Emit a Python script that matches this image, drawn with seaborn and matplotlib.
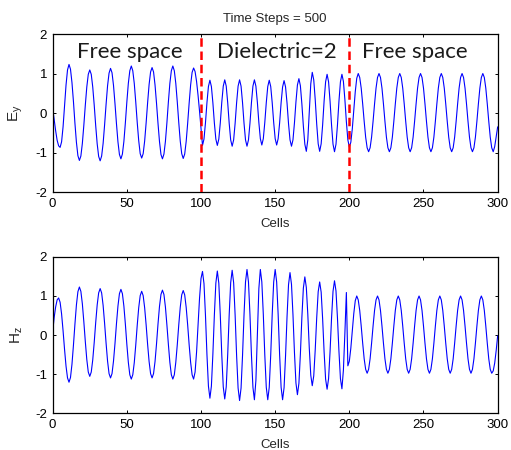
import matplotlib
matplotlib.use("Agg")
import matplotlib.pyplot as plt
import seaborn as sns
import pandas as pd

# Field snapshot after 500 time steps, one value per grid cell (0..300)
cells = list(range(301))

ey = [
    0.12, -0.16, -0.45, -0.69, -0.83, -0.87, -0.73, -0.35, 0.18, 0.71,
    1.09, 1.23, 1.11, 0.77, 0.29, -0.26, -0.74, -1.08, -1.20, -1.09,
    -0.77, -0.31, 0.20, 0.66, 0.98, 1.09, 0.98, 0.66, 0.20, -0.32,
    -0.78, -1.10, -1.21, -1.09, -0.77, -0.30, 0.22, 0.69, 1.01, 1.13,
    1.02, 0.70, 0.24, -0.27, -0.73, -1.05, -1.16, -1.04, -0.72, -0.25,
    0.28, 0.75, 1.07, 1.19, 1.07, 0.75, 0.28, -0.24, -0.70, -1.03,
    -1.14, -1.03, -0.71, -0.25, 0.26, 0.72, 1.04, 1.15, 1.04, 0.71,
    0.25, -0.26, -0.72, -1.05, -1.16, -1.04, -0.72, -0.25, 0.28, 0.75,
    1.07, 1.19, 1.07, 0.75, 0.28, -0.24, -0.71, -1.03, -1.15, -1.04,
    -0.72, -0.26, 0.25, 0.71, 1.03, 1.14, 1.05, 0.80, 0.45, 0.05,
    -0.40, -0.82, -0.66, -0.25, 0.26, 0.67, 0.83, 0.67, 0.26, -0.25,
    -0.66, -0.82, -0.66, -0.25, 0.27, 0.68, 0.84, 0.68, 0.26, -0.26,
    -0.68, -0.84, -0.68, -0.26, 0.26, 0.68, 0.84, 0.68, 0.26, -0.26,
    -0.68, -0.84, -0.68, -0.26, 0.26, 0.68, 0.84, 0.68, 0.27, -0.24,
    -0.65, -0.81, -0.65, -0.24, 0.26, 0.67, 0.83, 0.67, 0.26, -0.24,
    -0.65, -0.81, -0.65, -0.25, 0.26, 0.66, 0.82, 0.66, 0.25, -0.27,
    -0.68, -0.84, -0.68, -0.25, 0.28, 0.71, 0.87, 0.69, 0.23, -0.33,
    -0.79, -0.97, -0.68, 0.03, 0.74, 1.03, 0.84, 0.34, -0.28, -0.78,
    -0.97, -0.78, -0.30, 0.31, 0.79, 0.98, 0.79, 0.30, -0.30, -0.79,
    -0.98, -0.79, -0.30, 0.30, 0.79, 0.98, 0.80, 0.34, -0.22, -0.68,
    -0.86, -0.74, -0.40, 0.07, 0.54, 0.88, 1.00, 0.90, 0.63, 0.23,
    -0.21, -0.61, -0.88, -0.98, -0.88, -0.61, -0.21, 0.23, 0.63, 0.90,
    1.00, 0.90, 0.63, 0.23, -0.21, -0.61, -0.88, -0.98, -0.88, -0.61,
    -0.21, 0.23, 0.63, 0.90, 1.00, 0.90, 0.63, 0.23, -0.21, -0.61,
    -0.88, -0.98, -0.88, -0.61, -0.21, 0.23, 0.63, 0.90, 1.00, 0.90,
    0.63, 0.23, -0.21, -0.61, -0.88, -0.98, -0.88, -0.61, -0.21, 0.23,
    0.63, 0.90, 1.00, 0.90, 0.63, 0.23, -0.21, -0.61, -0.88, -0.98,
    -0.88, -0.61, -0.21, 0.23, 0.63, 0.90, 1.00, 0.90, 0.63, 0.23,
    -0.21, -0.61, -0.88, -0.98, -0.88, -0.61, -0.21, 0.23, 0.63, 0.90,
    1.00, 0.90, 0.63, 0.23, -0.21, -0.61, -0.88, -0.98, -0.85, -0.60,
    -0.35,
]

hz = [
    0.08, 0.45, 0.72, 0.90, 0.95, 0.84, 0.54, 0.11, -0.37, -0.80,
    -1.10, -1.21, -1.09, -0.75, -0.26, 0.28, 0.77, 1.11, 1.23, 1.12,
    0.80, 0.34, -0.17, -0.63, -0.95, -1.06, -0.95, -0.64, -0.19, 0.32,
    0.77, 1.08, 1.19, 1.08, 0.76, 0.30, -0.21, -0.67, -0.99, -1.10,
    -0.99, -0.67, -0.22, 0.29, 0.74, 1.06, 1.17, 1.06, 0.74, 0.28,
    -0.24, -0.70, -1.02, -1.13, -1.02, -0.71, -0.26, 0.25, 0.70, 1.01,
    1.12, 1.01, 0.70, 0.26, -0.24, -0.68, -0.99, -1.10, -0.99, -0.68,
    -0.23, 0.28, 0.73, 1.04, 1.15, 1.04, 0.72, 0.26, -0.24, -0.70,
    -1.02, -1.13, -1.02, -0.70, -0.25, 0.26, 0.71, 1.03, 1.14, 1.03,
    0.71, 0.26, -0.25, -0.70, -1.02, -1.13, -0.95, -0.44, 0.25, 0.94,
    1.45, 1.63, 1.32, 0.51, -0.50, -1.31, -1.62, -1.31, -0.49, 0.51,
    1.33, 1.64, 1.33, 0.51, -0.51, -1.33, -1.64, -1.33, -0.50, 0.52,
    1.34, 1.66, 1.34, 0.51, -0.53, -1.36, -1.68, -1.36, -0.52, 0.52,
    1.36, 1.68, 1.36, 0.53, -0.51, -1.34, -1.66, -1.17, 0.01, 1.19,
    1.68, 1.36, 0.53, -0.51, -1.34, -1.66, -1.34, -0.51, 0.53, 1.36,
    1.68, 1.36, 0.53, -0.51, -1.34, -1.66, -1.35, -0.53, 0.47, 1.29,
    1.60, 1.30, 0.52, -0.45, -1.23, -1.53, -1.24, -0.49, 0.45, 1.20,
    1.49, 1.22, 0.53, -0.34, -1.03, -1.30, -1.05, -0.38, 0.44, 1.11,
    1.36, 1.10, 0.41, -0.44, -1.13, -1.39, -1.12, -0.43, 0.43, 1.12,
    1.39, 1.13, 0.43, -0.42, -1.12, -1.38, -0.90, 0.05, 1.09, -0.79,
    -0.67, -0.34, 0.11, 0.55, 0.88, 1.00, 0.90, 0.63, 0.23, -0.21,
    -0.61, -0.88, -0.98, -0.88, -0.61, -0.21, 0.23, 0.63, 0.90, 1.00,
    0.90, 0.63, 0.23, -0.21, -0.61, -0.88, -0.98, -0.88, -0.61, -0.21,
    0.23, 0.63, 0.90, 1.00, 0.90, 0.63, 0.23, -0.21, -0.61, -0.88,
    -0.98, -0.88, -0.61, -0.21, 0.23, 0.63, 0.90, 1.00, 0.90, 0.63,
    0.23, -0.21, -0.61, -0.88, -0.98, -0.88, -0.61, -0.21, 0.23, 0.63,
    0.90, 1.00, 0.90, 0.63, 0.23, -0.21, -0.61, -0.88, -0.98, -0.88,
    -0.61, -0.21, 0.23, 0.63, 0.90, 1.00, 0.90, 0.63, 0.23, -0.21,
    -0.61, -0.88, -0.98, -0.88, -0.61, -0.21, 0.23, 0.63, 0.90, 1.00,
    0.90, 0.63, 0.23, -0.21, -0.61, -0.88, -0.98, -0.92, -0.72, -0.40,
    -0.02,
]

x_ticks = [0, 50, 100, 150, 200, 250, 300]
y_ticks = [-2, -1, 0, 1, 2]
interfaces = [100, 200]
region_names = ["Free space", "Dielectric=2", "Free space"]
region_x = [52, 151, 244]
region_y = 1.55
title_text = "Time Steps = 500"

sns.set_theme(style="ticks")
plt.rcParams["font.family"] = ["Liberation Sans", "DejaVu Sans"]
plt.rcParams["mathtext.fontset"] = "custom"
plt.rcParams["mathtext.rm"] = "Liberation Sans"
plt.rcParams["mathtext.it"] = "Liberation Sans"
plt.rcParams["axes.unicode_minus"] = False

df = pd.DataFrame({"Cells": cells, "Ey": ey, "Hz": hz})

fig = plt.figure(figsize=(5.11, 4.5), dpi=100)
fig.patch.set_facecolor("white")
ax1 = fig.add_axes([0.1031, 0.5733, 0.8708, 0.3511])
ax2 = fig.add_axes([0.1031, 0.0822, 0.8708, 0.3467])

for ax, col, lab in [(ax1, "Ey", r"$\mathrm{E_y}$"), (ax2, "Hz", r"$\mathrm{H_z}$")]:
    sns.lineplot(data=df, x="Cells", y=col, ax=ax, color="#0000ff",
                 linewidth=0.8, estimator=None)
    ax.set_xlim(0, 300)
    ax.set_ylim(-2, 2)
    ax.set_xticks(x_ticks)
    ax.set_yticks(y_ticks)
    ax.set_xlabel("Cells", fontsize=9.5, labelpad=6)
    ax.set_ylabel(lab, fontsize=11, labelpad=7)
    ax.tick_params(direction="in", length=2.5, width=0.7, top=True, right=True,
                   labelsize=9.5, pad=4, colors="black")
    for s in ax.spines.values():
        s.set_visible(True)
        s.set_color("black")
        s.set_linewidth(0.9)
    ax.set_facecolor("white")

for xv in interfaces:
    ax1.axvline(xv, color="#ff0000", linewidth=1.8, linestyle=(0, (3.4, 1.9)),
                zorder=3)

for name, xc in zip(region_names, region_x):
    ax1.text(xc, region_y, name, ha="center", va="center", fontsize=16,
             family=["Lato", "DejaVu Sans"], color="#1a1a1a")

ax1.set_title(title_text, fontsize=9.5, pad=9)

fig.savefig("out.png", dpi=100)
